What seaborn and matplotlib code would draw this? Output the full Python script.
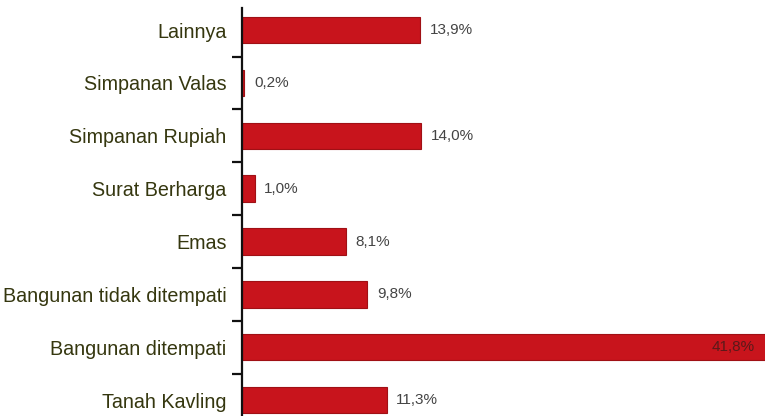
import numpy as np
import matplotlib
matplotlib.use("Agg")
import pandas as pd
import matplotlib.pyplot as plt
import seaborn as sns
from matplotlib.ticker import FixedLocator

categories = ["Lainnya", "Simpanan Valas", "Simpanan Rupiah", "Surat Berharga",
              "Emas", "Bangunan tidak ditempati", "Bangunan ditempati", "Tanah Kavling"]
values = [13.9, 0.2, 14.0, 1.0, 8.1, 9.8, 41.8, 11.3]
labels = ["13,9%", "0,2%", "14,0%", "1,0%", "8,1%", "9,8%", "41,8%", "11,3%"]

sns.set_style("white")
plt.rcParams['font.family'] = ['Liberation Sans', 'DejaVu Sans']

df = pd.DataFrame({"kategori": categories, "nilai": values})

fig = plt.figure(figsize=(7.65, 4.16), dpi=100)
ax = fig.add_axes([0.316, 0.0, 0.684, 0.981])
sns.barplot(data=df, y="kategori", x="nilai", orient="h", color="#c8141c",
            edgecolor="#a01015", linewidth=0.8, width=0.5, saturation=1, ax=ax)

ax.set_xlim(0, 40.8)
ax.set_ylim(7.3, -0.42)
ax.set_xlabel("")
ax.set_ylabel("")
ax.set_xticks([])
for s in ["top", "right", "bottom"]:
    ax.spines[s].set_visible(False)
ax.spines["left"].set_color("#111111")
ax.spines["left"].set_linewidth(1.6)

ax.tick_params(axis="y", which="major", length=0, pad=11, labelsize=14.2,
               labelcolor="#35370f")
ax.yaxis.set_minor_locator(FixedLocator(np.arange(0.5, 7.0, 1.0)))
ax.tick_params(axis="y", which="minor", left=True, length=7, width=1.6,
               color="#111111", direction="out")

for i, (v, t) in enumerate(zip(values, labels)):
    if v > 30:
        ax.text(40.0, i, t, va="center", ha="right", fontsize=11, color="#5a1a1a")
    else:
        ax.text(v + 0.75, i, t, va="center", ha="left", fontsize=11, color="#444444")

fig.savefig("out.png", dpi=100)
